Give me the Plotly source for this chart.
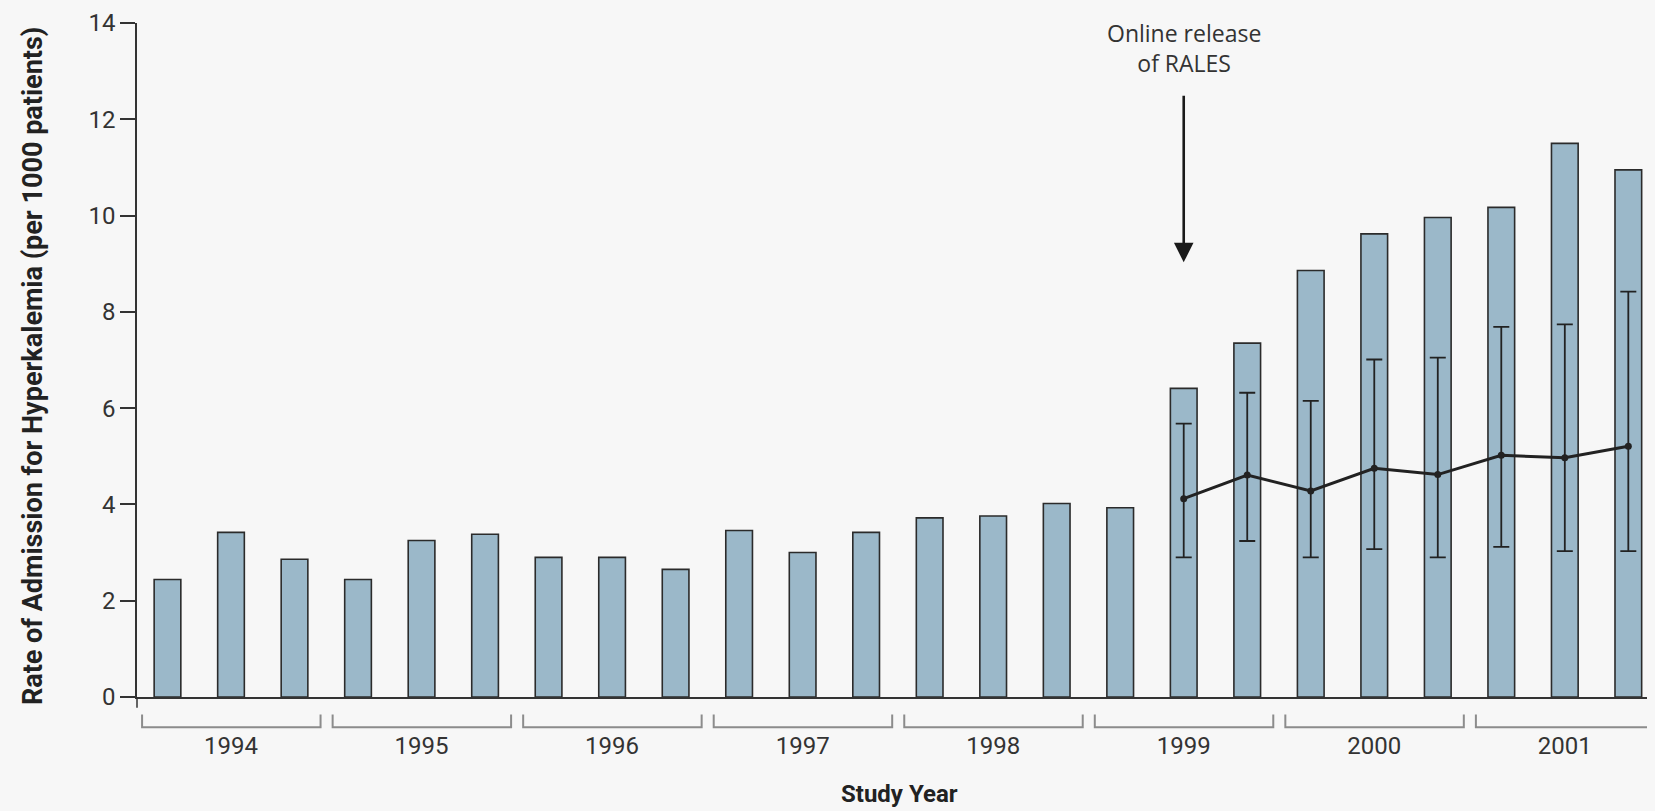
import plotly.graph_objects as go

# study years, three periods per year
years = ["1994", "1995", "1996", "1997", "1998", "1999", "2000", "2001"]

# observed admission rate per 1000 patients (bars)
observed = [2.44, 3.42, 2.86,
            2.44, 3.25, 3.38,
            2.90, 2.90, 2.65,
            3.46, 3.00, 3.42,
            3.72, 3.76, 4.02,
            3.93, 6.41, 7.35,
            8.86, 9.62, 9.96,
            10.17, 11.50, 10.95]

# expected rate with 95% interval, starting at the RALES release period
expected_idx = [16, 17, 18, 19, 20, 21, 22, 23]
expected = [4.12, 4.61, 4.28, 4.75, 4.62, 5.02, 4.97, 5.21]
expected_hi = [5.68, 6.32, 6.15, 7.01, 7.05, 7.69, 7.74, 8.42]
expected_lo = [2.90, 3.24, 2.90, 3.07, 2.90, 3.12, 3.03, 3.03]

release_idx = 16
arrow_tip, arrow_tail = 9.03, 12.52

bar_x = list(range(len(observed)))
year_pos = [3 * k + 1 for k in range(len(years))]

fig = go.Figure()

fig.add_trace(go.Bar(
    x=bar_x, y=observed, width=0.42,
    marker=dict(color="#9bb8c9", line=dict(color="#2b2b2b", width=1.6)),
    showlegend=False, hoverinfo="y"))

fig.add_trace(go.Scatter(
    x=expected_idx, y=expected, mode="lines+markers",
    line=dict(color="#222222", width=3),
    marker=dict(color="#222222", size=7),
    error_y=dict(type="data", symmetric=False,
                 array=[h - m for h, m in zip(expected_hi, expected)],
                 arrayminus=[m - l for m, l in zip(expected, expected_lo)],
                 color="#222222", thickness=1.8, width=8),
    showlegend=False))

# year brackets under the axis
for p in year_pos:
    x0, x1 = p - 1.40, p + 1.41
    fig.add_shape(type="path", xref="x", yref="paper",
                  path=f"M {x0},-0.026 L {x0},-0.045 L {x1},-0.045 L {x1},-0.026",
                  line=dict(color="#8c8c8c", width=2))

# small extension of the y axis below zero
fig.add_shape(type="line", xref="paper", yref="paper", x0=0, x1=0, y0=0, y1=-0.016,
              line=dict(color="#333333", width=1.5))

# RALES release marker
fig.add_annotation(x=release_idx, y=arrow_tip, ax=release_idx, ay=arrow_tail,
                   axref="x", ayref="y", text="", showarrow=True,
                   arrowhead=2, arrowsize=1.5, arrowwidth=2.6, arrowcolor="#1a1a1a")
fig.add_annotation(x=release_idx, y=13.48, text="Online release<br>of RALES",
                   showarrow=False, yanchor="middle",
                   font=dict(family="Open Sans", size=23, color="#333333"))

fig.add_annotation(xref="paper", yref="paper", x=-0.0685, y=0.491, xanchor="center",
                   text="Rate of Admission for Hyperkalemia (per 1000 patients)",
                   textangle=-90, showarrow=False,
                   font=dict(family="Roboto", size=27, color="#222222", weight=700))

fig.add_annotation(xref="paper", yref="paper", x=0.502, y=-0.1435,
                   text="Study Year", showarrow=False, yanchor="middle",
                   font=dict(family="Roboto", size=24, color="#222222", weight=700))

fig.update_xaxes(range=[-0.48, 23.42], tickvals=year_pos, ticktext=years,
                 ticks="", ticklabelstandoff=26, showgrid=False, zeroline=False,
                 showline=True, linecolor="#333333", linewidth=2,
                 tickfont=dict(family="Roboto", size=24, color="#333333"))
fig.update_yaxes(range=[0, 14], dtick=2, ticks="outside", ticklen=15, tickwidth=1.5,
                 tickcolor="#333333", showgrid=False, zeroline=False,
                 showline=True, linecolor="#333333", linewidth=1.5,
                 tickfont=dict(family="Roboto", size=24, color="#333333"))

# page body adds an 8px margin, so the figure is 8px smaller on the left/top
fig.update_layout(width=1647, height=803,
                  margin=dict(l=129, r=0, t=15, b=114),
                  paper_bgcolor="#f7f7f7", plot_bgcolor="#f7f7f7",
                  bargap=0.58)

fig.write_html("out.html", post_script="document.body.style.background='#f7f7f7';")
